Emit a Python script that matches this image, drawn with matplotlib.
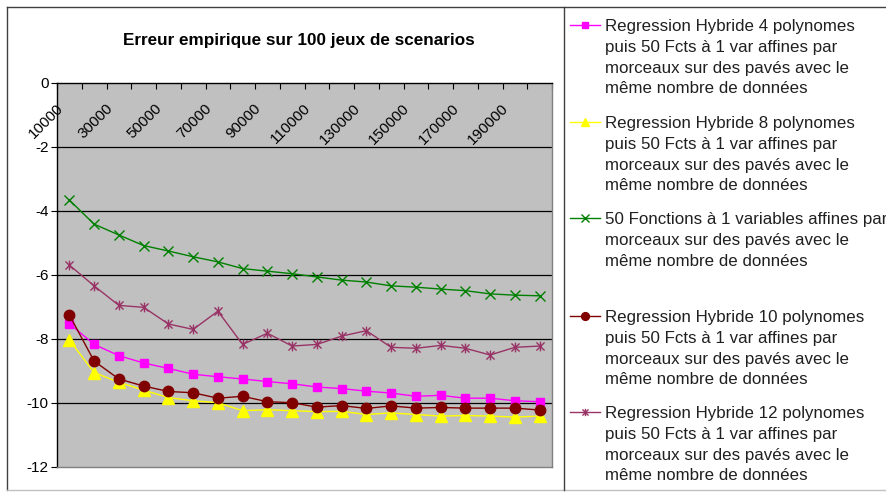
import matplotlib
matplotlib.use("Agg")
import matplotlib.pyplot as plt
from matplotlib.lines import Line2D
from matplotlib.path import Path
import numpy as np

plt.rcParams['font.family'] = ['Liberation Sans', 'DejaVu Sans']

title = "Erreur empirique sur 100 jeux de scenarios"
sizes = [10000, 20000, 30000, 40000, 50000, 60000, 70000, 80000, 90000, 100000,
         110000, 120000, 130000, 140000, 150000, 160000, 170000, 180000, 190000, 200000]

hyb4 = [-7.52, -8.17, -8.52, -8.75, -8.92, -9.10, -9.18, -9.25, -9.33, -9.40,
        -9.50, -9.55, -9.63, -9.69, -9.79, -9.76, -9.85, -9.85, -9.93, -9.96]
hyb8 = [-8.03, -9.05, -9.35, -9.60, -9.83, -9.93, -9.99, -10.24, -10.21, -10.24,
        -10.27, -10.26, -10.36, -10.31, -10.36, -10.41, -10.39, -10.41, -10.44, -10.41]
fct50 = [-3.66, -4.41, -4.75, -5.08, -5.25, -5.43, -5.59, -5.80, -5.88, -5.96,
         -6.06, -6.16, -6.22, -6.34, -6.38, -6.44, -6.49, -6.59, -6.63, -6.65]
hyb10 = [-7.25, -8.69, -9.25, -9.47, -9.64, -9.68, -9.85, -9.79, -9.96, -9.99,
         -10.13, -10.08, -10.17, -10.09, -10.16, -10.14, -10.16, -10.16, -10.16, -10.22]
hyb12 = [-5.69, -6.34, -6.95, -7.01, -7.53, -7.70, -7.13, -8.17, -7.82, -8.22,
         -8.17, -7.91, -7.74, -8.26, -8.29, -8.20, -8.29, -8.50, -8.26, -8.22]

tail = "puis 50 Fcts à 1 var affines par\nmorceaux sur des pavés avec le\nmême nombre de données"
labels = [
    "Regression Hybride 4 polynomes\n" + tail,
    "Regression Hybride 8 polynomes\n" + tail,
    "50 Fonctions à 1 variables affines par\nmorceaux sur des pavés avec le\nmême nombre de données",
    "Regression Hybride 10 polynomes\n" + tail,
    "Regression Hybride 12 polynomes\n" + tail,
]
yticks = [0, -2, -4, -6, -8, -10, -12]

# Excel-like star marker: X plus vertical bar
star = Path([(-1, -1), (1, 1), (-1, 1), (1, -1), (0, -1.2), (0, 1.2)],
            [Path.MOVETO, Path.LINETO, Path.MOVETO, Path.LINETO, Path.MOVETO, Path.LINETO])

styles = [
    dict(color='#FF00FF', marker='s', ms=6, mfc='#FF00FF', mec='#FF00FF', lw=1.0),
    dict(color='#FFFF00', marker='^', ms=8, mfc='#FFFF00', mec='#FFFF00', lw=1.0),
    dict(color='#008000', marker='x', ms=7, mfc='none', mec='#008000', lw=1.0, mew=1.0),
    dict(color='#800000', marker='o', ms=7.5, mfc='#800000', mec='#800000', lw=1.0),
    dict(color='#993366', marker=star, ms=7, mfc='none', mec='#993366', lw=1.0, mew=1.0),
]
series = [hyb4, hyb8, fct50, hyb10, hyb12]

W, H = 886, 492
fig = plt.figure(figsize=(W / 100, H / 100), dpi=100)
ax = fig.add_axes([57 / W, (H - 467) / H, 495 / W, 384 / H])
ax.set_facecolor('#C0C0C0')

x = np.arange(len(sizes))
for s, st in zip(series, styles):
    ax.plot(x, s, zorder=3, **st)

ax.set_xlim(-0.5, len(sizes) - 0.5)
ax.set_ylim(-12, 0)
ax.set_yticks(yticks)
ax.set_yticklabels([str(v) for v in yticks], fontsize=11)
ax.tick_params(axis='y', direction='out', length=4, width=0.8, pad=2)
for v in yticks[1:-1]:
    ax.axhline(v, color='black', lw=0.9, zorder=1)

ax.xaxis.tick_top()
ax.set_xticks(np.arange(len(sizes) + 1) - 0.5)
ax.set_xticklabels([])
ax.tick_params(axis='x', direction='in', length=4, width=0.8)
for i, v in enumerate(sizes):
    if i % 2 == 0:
        ax.text(i - 0.35, -0.72, str(v), rotation=45, ha='right', va='center',
                rotation_mode='anchor', fontsize=11)

ax.spines['top'].set_color('black')
ax.spines['left'].set_color('black')
ax.spines['right'].set_color('#808080')
ax.spines['bottom'].set_color('#808080')
for sp in ax.spines.values():
    sp.set_linewidth(1.0)

fig.text(299 / W, 1 - 40 / H, title, ha='center', va='center', fontsize=12.3, fontweight='bold')

# frame
fig.add_artist(Line2D([7 / W, 7 / W], [1 - 7 / H, 1 - 490 / H], transform=fig.transFigure, color='#404040', lw=1))
fig.add_artist(Line2D([7 / W, 1], [1 - 7 / H, 1 - 7 / H], transform=fig.transFigure, color='#404040', lw=1))
fig.add_artist(Line2D([7 / W, 1], [1 - 490 / H, 1 - 490 / H], transform=fig.transFigure, color='#C0C0C0', lw=1))
fig.add_artist(Line2D([564 / W, 564 / W], [1 - 7 / H, 1 - 490 / H], transform=fig.transFigure, color='#404040', lw=1))

# legend
first_line_y = [25, 122, 218, 316, 412]
for lab, st, yy in zip(labels, styles, first_line_y):
    yf = 1 - yy / H
    fig.add_artist(Line2D([570 / W, 600 / W], [yf, yf], transform=fig.transFigure,
                          color=st['color'], lw=1.0))
    mk = dict(st)
    mk.pop('color'); mk.pop('lw')
    fig.add_artist(Line2D([585 / W], [yf], transform=fig.transFigure, ls='none',
                          color=st['color'], **{**mk, 'ms': mk['ms'] * 0.75}))
    fig.text(605 / W, yf + 6 / H, lab, ha='left', va='top', fontsize=12.2,
             linespacing=1.48, color='#202020')

fig.savefig('out.png', dpi=100)
